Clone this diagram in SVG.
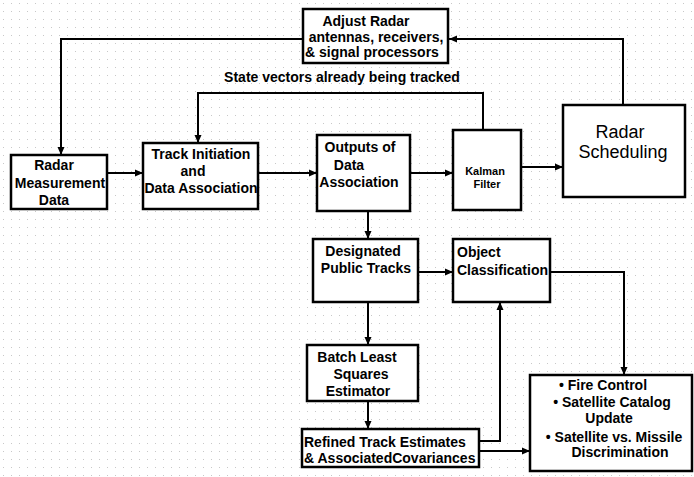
<svg xmlns="http://www.w3.org/2000/svg" width="694" height="477" viewBox="0 0 694 477">
<defs>
<pattern id="grid" x="3" y="3" width="8" height="8" patternUnits="userSpaceOnUse">
<rect x="0" y="0" width="1" height="1" fill="#c8c8c8"/>
</pattern>
<marker id="ah" markerUnits="userSpaceOnUse" markerWidth="9" markerHeight="8" refX="8" refY="4" orient="auto">
<path d="M0,0.5 L8,4 L0,7.5 z" fill="#000"/>
</marker>
<style>
.box{fill:#fff;stroke:#000;stroke-width:2.5}
.t{font-family:"Liberation Sans",Arial,sans-serif;font-weight:bold;font-size:14px;fill:#000;text-anchor:middle}
.l{text-anchor:start}
.k{font-size:11px}
.c{fill:none;stroke:#000;stroke-width:2;marker-end:url(#ah)}
</style>
</defs>
<rect width="694" height="477" fill="#fff"/>
<rect width="694" height="477" fill="url(#grid)"/>
<g id="connectors">
<path class="c" d="M303,39 H61 V155"/>
<path class="c" d="M623,105 V39 H449"/>
<path class="c" d="M483,130 V93 H198 V143"/>
<path class="c" d="M107,173 H143"/>
<path class="c" d="M258,173 H317"/>
<path class="c" d="M410,173 H453"/>
<path class="c" d="M521,167 H563"/>
<path class="c" d="M368,211 V239"/>
<path class="c" d="M418,272 H453"/>
<path class="c" d="M550,272 H624 V375"/>
<path class="c" d="M368,302 V345"/>
<path class="c" d="M368,401 V429"/>
<path class="c" d="M479,441 H500 V302"/>
<path class="c" d="M479,451 H530"/>
</g>
<g id="label-state">
<text class="t" x="342" y="82">State vectors already being tracked</text>
</g>
<g id="adjust">
<rect class="box" x="303" y="9" width="145" height="54"/>
<text class="t" x="366" y="26">Adjust Radar</text>
<text class="t" x="376" y="42">antennas, receivers,</text>
<text class="t" x="372" y="57">&amp; signal processors</text>
</g>
<g id="radar-meas">
<rect class="box" x="11" y="155" width="96" height="54"/>
<text class="t" x="54" y="170">Radar</text>
<text class="t" x="60" y="188">Measurement</text>
<text class="t" x="54" y="205">Data</text>
</g>
<g id="track-init">
<rect class="box" x="143" y="143" width="115" height="66"/>
<text class="t" x="201" y="159">Track Initiation</text>
<text class="t" x="193" y="176">and</text>
<text class="t" x="201" y="193">Data Association</text>
</g>
<g id="outputs">
<rect class="box" x="317" y="135" width="93" height="76"/>
<text class="t" x="360" y="152">Outputs of</text>
<text class="t" x="349" y="170">Data</text>
<text class="t" x="359" y="187">Association</text>
</g>
<g id="kalman">
<rect class="box" x="453" y="130" width="68" height="80"/>
<text class="t k" x="485" y="175">Kalman</text>
<text class="t k" x="487" y="188">Filter</text>
</g>
<g id="scheduling">
<rect class="box" x="563" y="105" width="122" height="92"/>
<text class="t" x="620" y="138" style="font-weight:normal;font-size:18px">Radar</text>
<text class="t" x="623" y="158" style="font-weight:normal;font-size:18px">Scheduling</text>
</g>
<g id="designated">
<rect class="box" x="313" y="239" width="105" height="63"/>
<text class="t" x="363" y="256">Designated</text>
<text class="t" x="366" y="273">Public Tracks</text>
</g>
<g id="object">
<rect class="box" x="453" y="239" width="97" height="63"/>
<text class="t l" x="457" y="257">Object</text>
<text class="t l" x="457" y="275">Classification</text>
</g>
<g id="batch">
<rect class="box" x="307" y="345" width="111" height="56"/>
<text class="t" x="357" y="362">Batch Least</text>
<text class="t" x="361" y="379">Squares</text>
<text class="t" x="358" y="396">Estimator</text>
</g>
<g id="refined">
<rect class="box" x="302" y="429" width="177" height="38"/>
<text class="t l" x="304" y="447">Refined Track Estimates</text>
<text class="t l" x="304" y="463">&amp; AssociatedCovariances</text>
</g>
<g id="outputs-final">
<rect class="box" x="530" y="375" width="162" height="96"/>
<text class="t" x="603" y="390">• Fire Control</text>
<text class="t" x="612" y="407">• Satellite Catalog</text>
<text class="t" x="609" y="423">Update</text>
<text class="t" x="614" y="442">• Satellite vs. Missile</text>
<text class="t" x="620" y="457">Discrimination</text>
</g>
</svg>
